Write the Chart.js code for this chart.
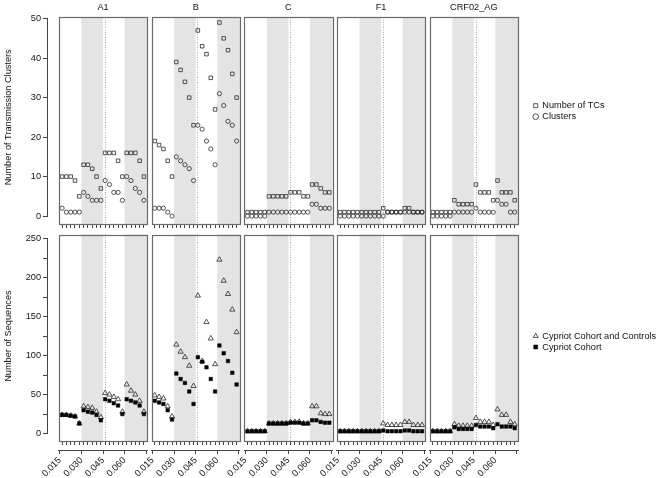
<!DOCTYPE html>
<html>
<head>
<meta charset="utf-8">
<script src="https://cdn.jsdelivr.net/npm/chart.js@4.4.1/dist/chart.umd.min.js"></script>
<style>
html,body{margin:0;padding:0;background:#fff;}
body{width:660px;height:478px;position:relative;overflow:hidden;}
canvas{position:absolute;left:0;top:0;}
</style>
</head>
<body>
<script>
// ---------------- data ----------------
const subtypes = ['A1', 'B', 'C', 'F1', 'CRF02_AG'];
const thresholds = [0.0165,0.0195,0.0225,0.0255,0.0285,0.0315,0.0345,0.0375,0.0405,0.0435,
                    0.0465,0.0495,0.0525,0.0555,0.0585,0.0615,0.0645,0.0675,0.0705,0.0735];
const xTickValues = [0.015, 0.030, 0.045, 0.060, 0.075];
const xTickLabels = ['0.015', '0.030', '0.045', '0.060', ''];
const topTickValues = [0, 10, 20, 30, 40, 50];
const bottomTickValues = [0, 25, 50, 75, 100, 125, 150, 175, 200, 225, 250];
const bottomTickLabels = ['0', '', '50', '', '100', '', '150', '', '200', '', '250'];
const bandFrom = [0.030, 0.060];
const bandTo = [0.045, 0.080];
const dividerX = 0.0462;

// Number of transmission clusters (top row)
const tcsA1      = [10,10,10,9,5, 13,13,12,10,7, 16,16,16,14,10, 16,16,16,14,10];
const clustersA1 = [2,1,1,1,1, 6,5,4,4,4, 9,8,6,6,4, 10,9,7,6,4];
const tcsB       = [19,18,17,14,10, 39,37,34,30,23, 47,43,41,35,27, 49,45,42,36,30];
const clustersB  = [2,2,2,1,0, 15,14,13,12,9, 23,22,19,17,13, 31,28,24,23,19];
const tcsC       = [1,1,1,1,1, 5,5,5,5,5, 6,6,6,5,5, 8,8,7,6,6];
const clustersC  = [0,0,0,0,0, 1,1,1,1,1, 1,1,1,1,1, 3,3,2,2,2];
const tcsF1      = [1,1,1,1,1, 1,1,1,1,1, 2,1,1,1,1, 2,2,1,1,1];
const clustersF1 = [0,0,0,0,0, 0,0,0,0,0, 0,1,1,1,1, 1,1,1,1,1];
const tcsCRF     = [1,1,1,1,1, 4,3,3,3,3, 8,6,6,6,4, 9,6,6,6,4];
const clustersCRF= [0,0,0,0,0, 1,1,1,1,1, 2,1,1,1,1, 4,3,3,1,1];

// Number of sequences (bottom row)
const ctrlA1   = [24,24,23,22,13, 35,34,33,28,21, 52,50,47,44,28, 63,55,50,42,28];
const cohortA1 = [24,24,23,22,13, 30,28,27,24,17, 44,42,39,36,25, 44,42,40,36,25];
const ctrlB    = [49,47,45,35,22, 114,105,98,87,61, 177,93,143,122,89, 223,196,179,159,130];
const cohortB  = [42,40,38,30,18, 77,70,65,54,38, 98,92,85,70,54, 113,103,93,78,63];
const ctrlC    = [3,3,3,3,3, 13,13,13,13,13, 15,15,15,13,13, 35,35,26,25,25];
const cohortC  = [3,3,3,3,3, 13,13,13,13,13, 14,14,14,13,13, 17,17,15,14,14];
const ctrlF1   = [3,3,3,3,3, 3,3,3,3,3, 13,11,11,11,11, 15,15,11,11,11];
const cohortF1 = [3,3,3,3,3, 3,3,3,3,3, 4,3,3,3,3, 4,4,3,3,3];
const ctrlCRF  = [3,3,3,3,3, 12,10,10,10,10, 20,15,15,15,11, 31,24,24,15,12];
const cohortCRF= [3,3,3,3,3, 8,6,6,6,6, 11,9,9,9,7, 12,9,9,9,7];

const topSeries = [[tcsA1, clustersA1], [tcsB, clustersB], [tcsC, clustersC], [tcsF1, clustersF1], [tcsCRF, clustersCRF]];
const bottomSeries = [[ctrlA1, cohortA1], [ctrlB, cohortB], [ctrlC, cohortC], [ctrlF1, cohortF1], [ctrlCRF, cohortCRF]];

// ---------------- layout / style ----------------
const W = 660, H = 478;
const FS = 9.2;
const FAMILY = "'Liberation Sans', Arial, Helvetica, sans-serif";
Chart.defaults.font.family = FAMILY;
Chart.defaults.font.size = FS;
Chart.defaults.color = '#111';

const COL_X0 = 58.8, COL_DX = 92.7, COL_W = 88.4;
const ROWS = [
  {top: 17, bottom: 224, ymin: -2, ymax: 50.4},
  {top: 234.5, bottom: 441, ymin: -9.5, ymax: 255.3}
];
const XMIN = 0.01422, XMAX = 0.07578;
const MINOR_H = 9;
const AXIS_X = 47;
const AXIS_COLOR = '#444';
const BOX_COLOR = '#6a6a6a';
const BAND_COLOR = '#e4e4e4';
const SYM = '#2a2a2a';

function addCanvas(left = 0, width = W) {
  const c = document.createElement('canvas');
  c.width = width; c.height = H;
  c.style.left = left + 'px';
  c.style.width = width + 'px'; c.style.height = H + 'px';
  document.body.appendChild(c);
  return c;
}
function yPix(row, v) {
  const r = ROWS[row];
  return r.bottom - (v - r.ymin) * (r.bottom - r.top) / (r.ymax - r.ymin);
}

const panelDecor = {
  id: 'panelDecor',
  beforeDatasetsDraw(chart) {
    const {ctx, chartArea: a, scales: {x}} = chart;
    ctx.save();
    ctx.fillStyle = BAND_COLOR;
    for (let i = 0; i < bandFrom.length; i++) {
      const x1 = x.getPixelForValue(bandFrom[i]);
      const x2 = Math.min(x.getPixelForValue(bandTo[i]), a.right);
      ctx.fillRect(x1, a.top, x2 - x1, a.bottom - a.top);
    }
    const dx = Math.round(x.getPixelForValue(dividerX)) + 0.5;
    ctx.strokeStyle = '#a8a8a8';
    ctx.lineWidth = 1;
    ctx.setLineDash([1, 1.5]);
    ctx.beginPath(); ctx.moveTo(dx, a.top); ctx.lineTo(dx, a.bottom); ctx.stroke();
    ctx.restore();
  },
  afterDatasetsDraw(chart) {
    const {ctx, chartArea: a} = chart;
    ctx.save();
    ctx.strokeStyle = BOX_COLOR;
    ctx.lineWidth = 1.2;
    const l = Math.round(a.left) + 0.5, t = Math.round(a.top) + 0.5;
    ctx.strokeRect(l, t, Math.round(a.right) - Math.round(a.left), Math.round(a.bottom) - Math.round(a.top));
    ctx.restore();
  }
};

function pts(values) { return thresholds.map((x, i) => ({x, y: values[i]})); }

function panelChart(col, row) {
  const L = COL_X0 + col * COL_DX, R = L + COL_W;
  const r = ROWS[row];
  const titleH = FS * 1.2 + 5;
  let datasets;
  if (row === 0) {
    const [tcs, cl] = topSeries[col];
    datasets = [
      {label: 'Number of TCs', data: pts(tcs), pointStyle: 'rect', pointRadius: 2.5,
       pointBorderColor: SYM, pointBackgroundColor: 'rgba(0,0,0,0)', pointBorderWidth: 0.8},
      {label: 'Clusters', data: pts(cl), pointStyle: 'circle', pointRadius: 2.1,
       pointBorderColor: SYM, pointBackgroundColor: 'rgba(0,0,0,0)', pointBorderWidth: 0.8}
    ];
  } else {
    const [ctrl, coh] = bottomSeries[col];
    datasets = [
      {label: 'Cypriot Cohort and Controls', data: pts(ctrl), pointStyle: 'triangle', pointRadius: 3,
       pointBorderColor: SYM, pointBackgroundColor: 'rgba(0,0,0,0)', pointBorderWidth: 0.8, order: 1},
      {label: 'Cypriot Cohort', data: pts(coh), pointStyle: 'rect', pointRadius: 2.5,
       pointBorderColor: '#000', pointBackgroundColor: '#000', pointBorderWidth: 0.5, order: 0}
    ];
  }
  const scales = {
    x: {
      type: 'linear', position: 'bottom', min: XMIN, max: XMAX, weight: 0,
      afterBuildTicks: s => { s.ticks = thresholds.map(v => ({value: v})); },
      ticks: {display: false, autoSkip: false},
      grid: {drawOnChartArea: false, drawTicks: true, tickLength: 4, color: AXIS_COLOR, lineWidth: 1},
      border: {display: false},
      afterFit: s => { s.height = MINOR_H; }
    },
    y: {type: 'linear', display: false, min: r.ymin, max: r.ymax}
  };
  if (row === 1) {
    scales.x2 = {
      type: 'linear', position: 'bottom', min: XMIN, max: XMAX, weight: 1,
      afterBuildTicks: s => { s.ticks = xTickValues.map(v => ({value: v})); },
      ticks: {display: true, autoSkip: false, minRotation: 45, maxRotation: 45, padding: 1, color: '#111',
              font: {size: FS}, callback: (v, i) => xTickLabels[i]},
      grid: {drawOnChartArea: false, drawTicks: true, tickLength: 4, color: AXIS_COLOR, lineWidth: 1},
      border: {display: true, color: AXIS_COLOR, width: 1},
      afterFit: s => { s.height = H - r.bottom - MINOR_H; }
    };
  }
  return new Chart(addCanvas(), {
    type: 'scatter',
    data: {datasets},
    options: {
      responsive: false, animation: false, events: [],
      layout: {padding: {
        left: L, right: W - R,
        top: row === 0 ? r.top - titleH : r.top,
        bottom: row === 0 ? H - r.bottom - MINOR_H : 0
      }},
      plugins: {
        legend: {display: false}, tooltip: {enabled: false},
        title: {display: row === 0, text: subtypes[col], color: '#111',
                font: {size: FS, weight: 'normal'}, padding: {top: 1, bottom: 4}}
      },
      scales
    },
    plugins: [panelDecor]
  });
}

function yAxisChart(row, ticks, labels, vmax, title) {
  const top = yPix(row, vmax), bottom = yPix(row, 0);
  return new Chart(addCanvas(), {
    type: 'scatter',
    data: {datasets: []},
    options: {
      responsive: false, animation: false, events: [],
      layout: {padding: {left: 0, right: W - AXIS_X - 1, top: top, bottom: H - bottom}},
      plugins: {legend: {display: false}, tooltip: {enabled: false}},
      scales: {
        x: {display: false, min: 0, max: 1},
        y: {
          type: 'linear', position: 'left', min: 0, max: vmax,
          afterBuildTicks: s => { s.ticks = ticks.map(v => ({value: v})); },
          ticks: {autoSkip: false, padding: 2, color: '#111', font: {size: FS},
                  callback: (v, i) => labels[i]},
          grid: {drawOnChartArea: false, drawTicks: true, tickLength: 4, color: AXIS_COLOR, lineWidth: 1},
          border: {display: true, color: AXIS_COLOR, width: 1},
          title: {display: true, text: title, color: '#111', font: {size: FS}, padding: {top: 3, bottom: 0}},
          afterFit: s => { s.width = AXIS_X; }
        }
      }
    }
  });
}

// legend canvases: a wide canvas that starts left of the legend so the legend box is not width-limited
const LEG_CANVAS_LEFT = 300, LEG_CANVAS_W = 600;
function legendChart(left, top, items) {
  return new Chart(addCanvas(LEG_CANVAS_LEFT, LEG_CANVAS_W), {
    type: 'scatter',
    data: {datasets: items},
    options: {
      responsive: false, animation: false, events: [],
      layout: {padding: {left: left - LEG_CANVAS_LEFT, top: top, right: 0, bottom: 0}},
      scales: {x: {display: false}, y: {display: false}},
      plugins: {
        tooltip: {enabled: false},
        legend: {display: true, position: 'left', align: 'start',
                 labels: {usePointStyle: true, boxWidth: 4, boxHeight: 4, padding: 1.8,
                          color: '#111', font: {size: FS}}}
      }
    }
  });
}

for (let c = 0; c < subtypes.length; c++) { panelChart(c, 0); panelChart(c, 1); }
yAxisChart(0, topTickValues, topTickValues.map(String), 50, 'Number of Transmission Clusters');
yAxisChart(1, bottomTickValues, bottomTickLabels, 250, 'Number of Sequences');

legendChart(531.9, 99.3, [
  {label: 'Number of TCs', data: [], pointStyle: 'rect', pointBorderColor: SYM, pointBackgroundColor: 'rgba(0,0,0,0)', pointBorderWidth: 0.8},
  {label: 'Clusters', data: [], pointStyle: 'circle', pointBorderColor: SYM, pointBackgroundColor: 'rgba(0,0,0,0)', pointBorderWidth: 0.8}
]);
legendChart(531.9, 329.6, [
  {label: 'Cypriot Cohort and Controls', data: [], pointStyle: 'triangle', pointBorderColor: SYM, pointBackgroundColor: 'rgba(0,0,0,0)', pointBorderWidth: 0.8},
  {label: 'Cypriot Cohort', data: [], pointStyle: 'rect', pointBorderColor: '#000', pointBackgroundColor: '#000', pointBorderWidth: 0.5}
]);
</script>
</body>
</html>
